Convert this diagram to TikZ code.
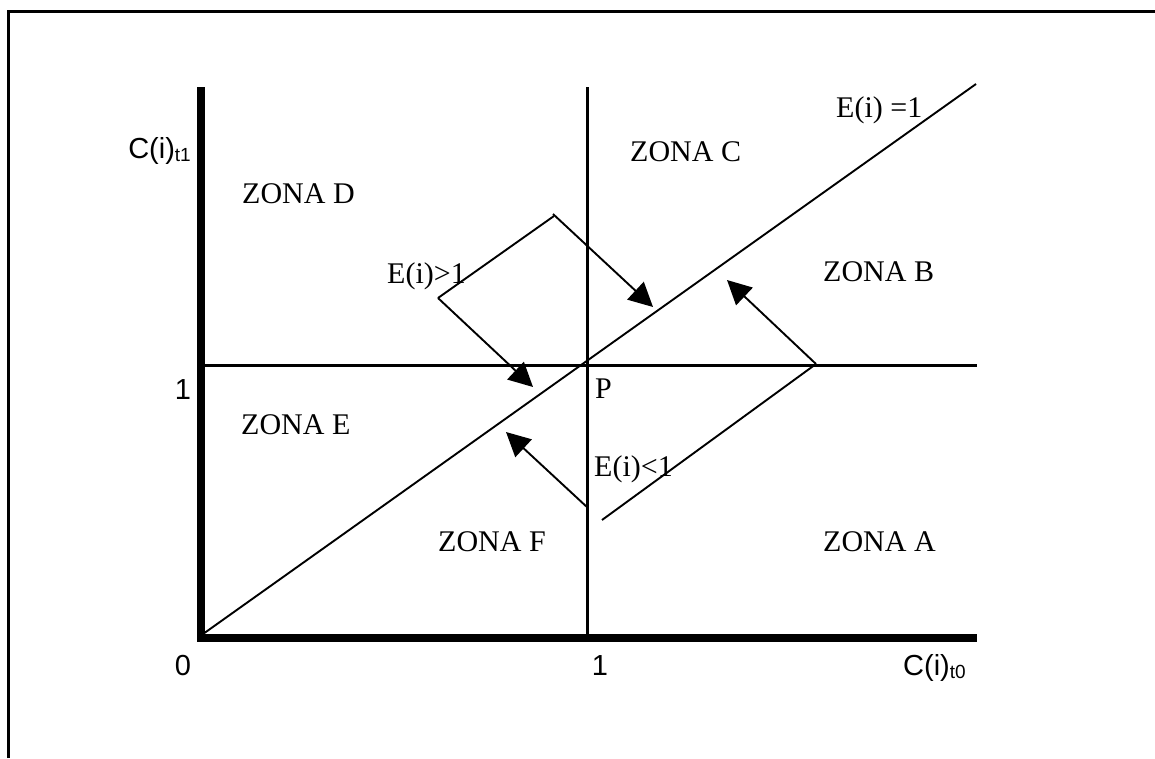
\documentclass[tikz,border=0pt]{standalone}
\usepackage{fontspec}
\setmainfont{Liberation Serif}
\setsansfont{Liberation Sans}
\usetikzlibrary{arrows.meta}
\begin{document}
\begin{tikzpicture}[x=1pt,y=-1pt,
  frameline/.style={line width=3pt},
  axisline/.style={line width=8pt},
  gridline/.style={line width=3pt},
  thinline/.style={line width=1.9pt},
  arrowline/.style={line width=1.9pt,-{Triangle[length=24pt,width=24pt]}},
  zlabel/.style={anchor=base west,inner sep=0pt,font=\fontsize{30}{34}\selectfont},
  slabel/.style={inner sep=0pt,font=\sffamily\fontsize{29}{34}\selectfont},
]
\useasboundingbox (0,0) rectangle (1155,758);
% frame
\coordinate (fl) at (8,758);
\coordinate (fc) at (8,11);
\coordinate (fr) at (1155,11);
\draw[frameline] (fl) -- (fc) -- (fr);
% axes
\coordinate (o) at (201,638);
\coordinate (ytop) at (201,87);
\coordinate (xend) at (977,638);
\draw[axisline] (ytop) -- (201,642);
\draw[axisline] (197,638) -- (xend);
% grid lines through P
\coordinate (vtop) at (587,87);
\coordinate (vbot) at (587,638);
\coordinate (hl) at (203,365);
\coordinate (hr) at (977,365);
\draw[gridline] (vtop) -- (vbot);
\draw[gridline] (hl) -- (hr);
% diagonal E(i)=1
\coordinate (d0) at (203,634);
\coordinate (d1) at (976,84);
\draw[thinline] (d0) -- (d1);
% upper arrows
\coordinate (ua) at (438,298);
\coordinate (ub) at (554,216);
\coordinate (uc) at (653,307);
\coordinate (ud) at (533,387);
\draw[thinline] (ua) -- (ub);
\draw[arrowline] (553,214) -- (uc);
\draw[arrowline] (ua) -- (ud);
% lower arrows
\coordinate (la) at (588,508);
\coordinate (lb) at (506,432);
\coordinate (lc) at (602,520);
\coordinate (ld) at (816,364);
\coordinate (le) at (727,280);
\draw[arrowline] (la) -- (lb);
\draw[thinline] (lc) -- (ld);
\draw[arrowline] (ld) -- (le);
% zone labels
\node[zlabel] (zd) at (242,203) {ZONA D};
\node[zlabel] (zc) at (630,161) {ZONA C};
\node[zlabel] (e1) at (836,117) {E(i) =1};
\node[zlabel] (zb) at (823,281) {ZONA B};
\node[zlabel] (eg) at (387,283) {E(i)>1};
\node[zlabel] (p) at (595,398) {P};
\node[zlabel] (ze) at (241,434) {ZONA E};
\node[zlabel] (el) at (594,476) {E(i)<1};
\node[zlabel] (zf) at (438,551) {ZONA F};
\node[zlabel] (za) at (823,551) {ZONA A};
% axis labels
\node[slabel,anchor=base east] (cy) at (191,158) {C(i)\raisebox{-0.2ex}{\fontsize{19}{21}\selectfont t1}};
\node[slabel,anchor=base] (one) at (183,399) {1};
\node[slabel,anchor=base] (zero) at (183,675) {0};
\node[slabel,anchor=base] (onex) at (600,675) {1};
\node[slabel,anchor=base west] (cx) at (903,675) {C(i)\raisebox{-0.2ex}{\fontsize{19}{21}\selectfont t0}};
\end{tikzpicture}
\end{document}
